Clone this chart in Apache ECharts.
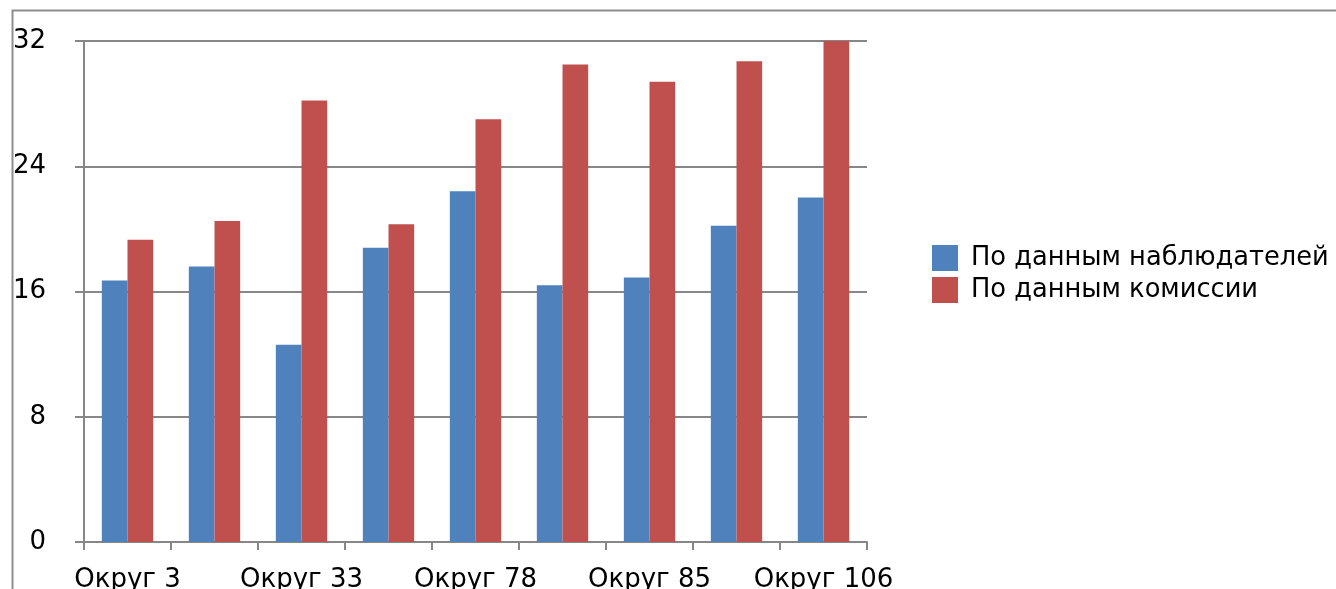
<!DOCTYPE html>
<html>
<head>
<meta charset="utf-8">
<script src="https://cdn.jsdelivr.net/npm/echarts@6/dist/echarts.min.js"></script>
<style>
html,body{margin:0;padding:0;background:#fff;}
#chart{width:1336px;height:589px;}
</style>
</head>
<body>
<div id="chart"></div>
<script>
const categories = ['Округ 3', '', 'Округ 33', '', 'Округ 78', '', 'Округ 85', '', 'Округ 106'];
const seriesNames = ['По данным наблюдателей', 'По данным комиссии'];
const observers = [16.7, 17.6, 12.6, 18.8, 22.4, 16.4, 16.9, 20.2, 22.0];
const commission = [19.3, 20.5, 28.2, 20.3, 27.0, 30.5, 29.4, 30.7, 32.0];
const yTicks = {min: 0, max: 32, interval: 8};

const FONT = 'DejaVu Sans';
const GRAY = '#878787';
const chart = echarts.init(document.getElementById('chart'));
chart.setOption({
  animation: false,
  backgroundColor: '#ffffff',
  textStyle: {fontFamily: FONT},
  graphic: [{
    type: 'rect', left: 10, top: 8, silent: true,
    shape: {x: 0, y: 0, width: 1400, height: 700},
    style: {fill: 'none', stroke: '#8e8e8e', lineWidth: 2}
  }],
  grid: {left: 84, right: 469, top: 41, bottom: 47, containLabel: false, outerBoundsMode: 'none'},
  legend: {
    orient: 'vertical', left: 927, top: 240,
    itemWidth: 26, itemHeight: 26, itemGap: 6,
    icon: 'rect',
    textStyle: {fontFamily: FONT, fontSize: 25.7, color: '#000', padding: [0, 0, 0, 8], lineHeight: 26},
    data: seriesNames
  },
  xAxis: {
    type: 'category', data: categories, boundaryGap: true,
    axisLine: {lineStyle: {color: GRAY, width: 2}},
    axisTick: {show: true, interval: 0, length: 8, lineStyle: {color: GRAY, width: 2}},
    axisLabel: {interval: 1, fontFamily: FONT, fontSize: 26, color: '#000', margin: 25}
  },
  yAxis: {
    type: 'value', min: yTicks.min, max: yTicks.max, interval: yTicks.interval,
    axisLine: {show: true, lineStyle: {color: GRAY, width: 2}},
    axisTick: {show: true, length: 9, lineStyle: {color: GRAY, width: 2}},
    axisLabel: {fontFamily: FONT, fontSize: 26, color: '#000', margin: 38, padding: [6, 0, 0, 0]},
    splitLine: {show: true, lineStyle: {color: GRAY, width: 2}}
  },
  series: [
    {name: seriesNames[0], type: 'bar', data: observers, barGap: '0%', barCategoryGap: '41%', itemStyle: {color: '#4F81BD'}},
    {name: seriesNames[1], type: 'bar', data: commission, barGap: '0%', barCategoryGap: '41%', itemStyle: {color: '#C0504D'}}
  ]
});
</script>
</body>
</html>
